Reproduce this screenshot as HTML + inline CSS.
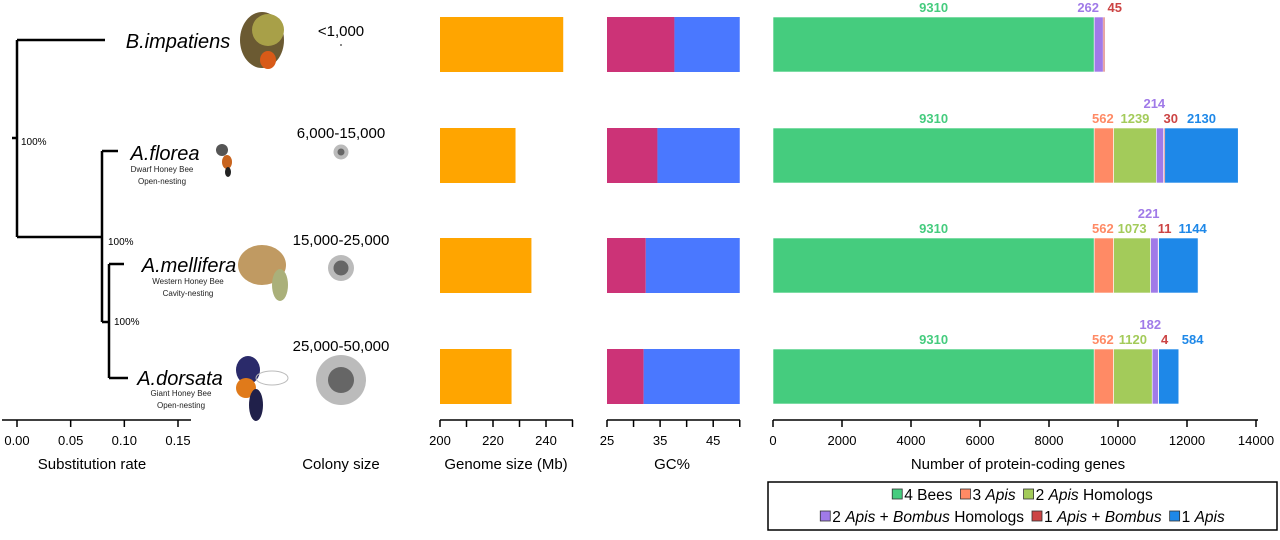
<!DOCTYPE html>
<html><head><meta charset="utf-8"><style>
html,body{margin:0;padding:0;background:#fff;}
body{width:1280px;height:535px;overflow:hidden;font-family:"Liberation Sans",sans-serif;}
</style></head><body>
<svg id="chart" width="1280" height="535" viewBox="0 0 1280 535" xmlns="http://www.w3.org/2000/svg" font-family="Liberation Sans, sans-serif">
<g id="tree" stroke="#000" stroke-width="2.5" fill="none">
  <path d="M12 138H17M17 40V237M17 40H105M17 237H102M102 151V322M102 151H118M102 322H109M109 264V378M109 264H124M109 378H128"/>
</g>
<g font-size="10" fill="#000">
  <text x="21" y="145">100%</text>
  <text x="108" y="245">100%</text>
  <text x="114" y="325">100%</text>
</g>
<g font-style="italic" font-size="20" fill="#000" text-anchor="middle">
  <text x="178" y="48">B.impatiens</text>
  <text x="165" y="160">A.florea</text>
  <text x="189" y="272">A.mellifera</text>
  <text x="180" y="385">A.dorsata</text>
</g>
<g font-size="8" fill="#222" text-anchor="middle">
  <text x="162" y="172">Dwarf Honey Bee</text>
  <text x="162" y="184">Open-nesting</text>
  <text x="188" y="284">Western Honey Bee</text>
  <text x="188" y="296">Cavity-nesting</text>
  <text x="181" y="396">Giant Honey Bee</text>
  <text x="181" y="408">Open-nesting</text>
</g>
<g id="bees">
  <ellipse cx="262" cy="40" rx="22" ry="28" fill="#6b5a32"/><ellipse cx="268" cy="30" rx="16" ry="16" fill="#a8a048"/><ellipse cx="268" cy="60" rx="8" ry="9" fill="#d85a18"/>
  <ellipse cx="222" cy="150" rx="6" ry="6" fill="#555"/><ellipse cx="227" cy="162" rx="5" ry="7" fill="#c8641e"/><ellipse cx="228" cy="172" rx="3" ry="5" fill="#222"/>
  <ellipse cx="262" cy="265" rx="24" ry="20" fill="#c09a62"/><ellipse cx="280" cy="285" rx="8" ry="16" fill="#aab07a"/>
  <ellipse cx="248" cy="370" rx="12" ry="14" fill="#2a2a6a"/><ellipse cx="246" cy="388" rx="10" ry="10" fill="#e07a1a"/><ellipse cx="256" cy="405" rx="7" ry="16" fill="#20204a"/><ellipse cx="272" cy="378" rx="16" ry="7" fill="none" stroke="#bbb"/>
</g>
<g id="substitution-axis"></g>
<g id="colony" font-size="15" text-anchor="middle" fill="#000">
  <text x="341" y="36">&lt;1,000</text>
  <circle cx="341" cy="45" r="1" fill="#666"/>
  <text x="341" y="138">6,000-15,000</text>
  <circle cx="341" cy="152" r="7.5" fill="#bbb"/><circle cx="341" cy="152" r="3.5" fill="#666"/>
  <text x="341" y="245">15,000-25,000</text>
  <circle cx="341" cy="268" r="13" fill="#bbb"/><circle cx="341" cy="268" r="7.5" fill="#666"/>
  <text x="341" y="351">25,000-50,000</text>
  <circle cx="341" cy="380" r="25" fill="#bbb"/><circle cx="341" cy="380" r="13" fill="#666"/>
  <text x="341" y="469">Colony size</text>
</g>
<g id="genome"></g>
<g id="gc"></g>
<g id="genes"></g>
<g id="legend">
  <rect x="768" y="482" width="509" height="48" fill="#fff" stroke="#000" stroke-width="1.5"/>
</g>
</svg>
<script>
const NS="http://www.w3.org/2000/svg";
const species=["B.impatiens","A.florea","A.mellifera","A.dorsata"];
const genomeSize=[246.5,228.5,234.5,227];
const gcValues=[37.7,34.5,32.3,31.9];
const subTicks=[0,0.05,0.1,0.15];
const genomeTicks=[200,210,220,230,240,250];
const genomeLabels=["200","","220","","240",""];
const gcTicks=[25,30,35,40,45,50];
const gcLabels=["25","","35","","45",""];
const geneTicks=[0,2000,4000,6000,8000,10000,12000,14000];
const cat4Bees=[9310,9310,9310,9310];
const cat3Apis=[0,562,562,562];
const cat2Apis=[0,1239,1073,1120];
const cat2ApisBombus=[262,214,221,182];
const cat1ApisBombus=[45,30,11,4];
const cat1Apis=[0,2130,1144,584];
const catNames=["4 Bees","3 Apis","2 Apis Homologs","2 Apis + Bombus Homologs","1 Apis + Bombus","1 Apis"];
const catColors=["#45cc7e","#ff8a65","#a3cb5a","#a07ae8","#cc4444","#1e88e8"];
const rowTop=[17,128,238,349], barH=55, axisY=420;
const sx=v=>17+v*(161/0.15);
const gx=v=>440+(v-200)*2.65;
const cx=v=>607+(v-25)*5.31;
const nx=v=>773+v*0.0345;
function el(tag,attrs,parent,text){const e=document.createElementNS(NS,tag);for(const k in attrs)e.setAttribute(k,attrs[k]);if(text!==undefined)e.textContent=text;parent.appendChild(e);return e;}
function axis(g,ticks,labels,fx,x0,x1,title,tx,name){
  const l=el('line',{x1:x0,x2:x1,y1:axisY,y2:axisY,stroke:'#000','stroke-width':1.5},g);
  
  
  ticks.forEach((t,i)=>{
    const tk=el('line',{x1:fx(t),x2:fx(t),y1:axisY,y2:axisY+7,stroke:'#000','stroke-width':1.5},g);
    
    
    if(labels[i]!==""){
      const tl=el('text',{x:fx(t),y:axisY+25,'font-size':13,'text-anchor':'middle',fill:'#000'},g,labels[i]);
      
      
    }
  });
  const tt=el('text',{x:tx,y:axisY+49,'font-size':15,'text-anchor':'middle',fill:'#000'},g,title);
  
  
}
axis(document.getElementById('substitution-axis'),subTicks,["0.00","0.05","0.10","0.15"],sx,2,191,"Substitution rate",92,'substitution');
axis(document.getElementById('genome'),genomeTicks,genomeLabels,gx,440,573,"Genome size (Mb)",506,'genome');
axis(document.getElementById('gc'),gcTicks,gcLabels,cx,607,740,"GC%",672,'gc');
axis(document.getElementById('genes'),geneTicks,geneTicks.map(String),nx,773,1258,"Number of protein-coding genes",1018,'genes');
const gG=document.getElementById('genome'),gC=document.getElementById('gc'),gN=document.getElementById('genes');
species.forEach((s,i)=>{
  const y=rowTop[i];
  const b=el('rect',{x:gx(200),y:y,width:gx(genomeSize[i])-gx(200),height:barH,fill:'#ffa500'},gG);
  
  
  const p=el('rect',{x:cx(25),y:y,width:cx(gcValues[i])-cx(25),height:barH,fill:'#cc3377'},gC);
  
  
  const q=el('rect',{x:cx(gcValues[i]),y:y,width:cx(50)-cx(gcValues[i]),height:barH,fill:'#4a78ff'},gC);
  
  
  const vals=[cat4Bees[i],cat3Apis[i],cat2Apis[i],cat2ApisBombus[i],cat1ApisBombus[i],cat1Apis[i]];
  let acc=0, redX=0;
  vals.forEach((v,j)=>{
    if(v<=0)return;
    const x0=nx(acc),x1=nx(acc+v);acc+=v;
    const r=el('rect',{x:x0,y:y,width:Math.max(x1-x0,1.5),height:barH,fill:catColors[j],stroke:'#fff','stroke-width':0.6},gN);
    
    
    let lx=(x0+x1)/2, ly=y-5;
    if(j===1)lx=(x0+x1)/2-1;
    if(j===3){ if(i===0){lx=x0-6;} else {ly=y-20; lx=x0-2;} }
    if(j===4){ lx = i===0 ? x1+10 : x1+6; redX=lx; }
    if(j===5){ lx=Math.max((x0+x1)/2, redX+28); }
    const t=el('text',{x:lx,y:ly,'font-size':13,'font-weight':'bold','text-anchor':'middle',fill:catColors[j]},gN,String(v));
    
    
  });
});
const lg=document.getElementById('legend');
const legRows=[[0,1,2],[3,4,5]];
const legY=[500,522];
legRows.forEach((row,ri)=>{
  const items=[];
  let total=0;
  row.forEach(j=>{
    const sw=el('rect',{x:0,y:legY[ri]-11,width:10,height:10,fill:catColors[j],stroke:'#333','stroke-width':0.8},lg);
    
    
    const t=el('text',{x:0,y:legY[ri],'font-size':15.5,fill:'#000'},lg);
    
    
    catNames[j].split(/(Apis|Bombus)/).forEach(part=>{if(!part)return;el('tspan',part==='Apis'||part==='Bombus'?{'font-style':'italic'}:{},t,part);});
    const w=t.getComputedTextLength();
    items.push([sw,t,w]);
    total+=12+w;
  });
  total+=8*(row.length-1);
  let x=1022.5-total/2;
  items.forEach(([sw,t,w])=>{
    sw.setAttribute('x',x);
    t.setAttribute('x',x+12);
    x+=12+w+8;
  });
});
</script>
</body></html>
